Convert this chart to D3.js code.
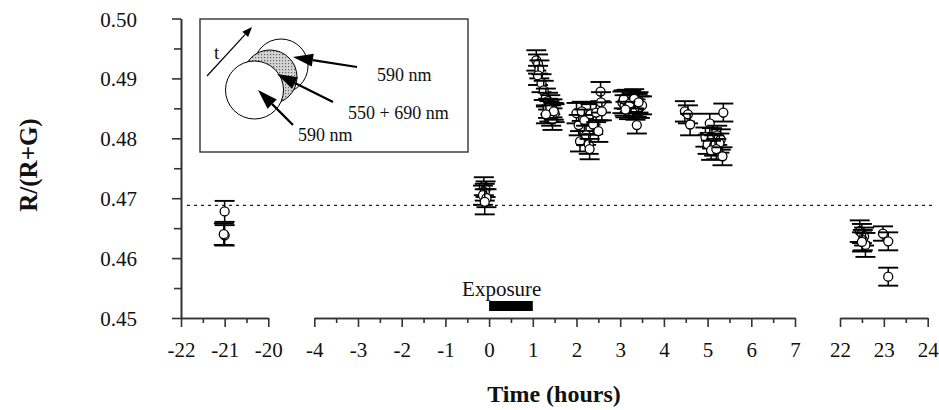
<!DOCTYPE html>
<html><head><meta charset="utf-8">
<script src="https://cdn.jsdelivr.net/npm/d3@7"></script>
<style>
html,body{margin:0;padding:0;background:#fff;}
svg{display:block;font-family:"Liberation Serif","Times New Roman",serif;}
</style></head>
<body>
<script>
// ---------------- data ----------------
const times = [
  -21, -21, -21.02,
  -0.12, -0.08, -0.10, -0.14, -0.06, -0.10,
  1.08, 1.12, 1.15, 1.12, 1.20, 1.25, 1.30, 1.35, 1.40, 1.45, 1.38, 1.50, 1.42, 1.45, 1.35, 1.48, 1.30,
  2.00, 2.05, 2.08, 2.12, 2.18, 2.22, 2.28, 2.32, 2.38, 2.45, 2.50, 2.55, 2.56, 2.58, 2.30,
  3.05, 3.10, 3.15, 3.20, 3.25, 3.30, 3.35, 3.40, 3.45, 3.38, 3.50, 3.08, 3.22, 3.32, 3.42, 3.12,
  4.48, 4.55, 4.60,
  5.05, 5.36, 4.95, 5.10, 5.22, 5.30, 5.00, 5.15, 5.27, 5.08, 5.20, 5.34,
  22.45, 22.50, 22.55, 22.52, 22.58, 22.50,
  22.98, 23.10, 23.10
];
const values = [
  0.4678, 0.4638, 0.4640,
  0.4720, 0.4715, 0.4710, 0.4705, 0.4700, 0.4694,
  0.4930, 0.4924, 0.4915, 0.4905, 0.4892, 0.4880, 0.4868, 0.4862, 0.4856, 0.4850, 0.4845, 0.4842, 0.4838, 0.4832, 0.4850, 0.4845, 0.4840,
  0.4842, 0.4822, 0.4795, 0.4845, 0.4830, 0.4805, 0.4790, 0.4840, 0.4823, 0.4843, 0.4812, 0.4878, 0.4860, 0.4845, 0.4782,
  0.4860, 0.4855, 0.4865, 0.4850, 0.4862, 0.4856, 0.4848, 0.4858, 0.4852, 0.4822, 0.4855, 0.4865, 0.4858, 0.4866, 0.4860, 0.4848,
  0.4845, 0.4840, 0.4823,
  0.4825, 0.4843, 0.4802, 0.4800, 0.4805, 0.4798, 0.4790, 0.4788, 0.4792, 0.4780, 0.4782, 0.4770,
  0.4645, 0.4641, 0.4636, 0.4630, 0.4622, 0.4627,
  0.4641, 0.4628, 0.4569
];
const errors = [
  0.00175, 0.0017, 0.0018,
  0.0015, 0.0013, 0.0014, 0.0016, 0.0015, 0.0021,
  0.0017, 0.0016, 0.0015, 0.0016, 0.0015, 0.0016, 0.0015, 0.0014, 0.0016, 0.0015, 0.0017, 0.0015, 0.0017, 0.0018, 0.0016, 0.0014, 0.0015,
  0.0017, 0.0017, 0.0017, 0.0016, 0.0018, 0.0016, 0.0016, 0.0017, 0.0016, 0.0016, 0.0018, 0.0016, 0.0017, 0.0015, 0.0017,
  0.0018, 0.0017, 0.0016, 0.0018, 0.0017, 0.0019, 0.0017, 0.0016, 0.0018, 0.0014, 0.0015, 0.0015, 0.0014, 0.0016, 0.0017, 0.0013,
  0.0017, 0.0015, 0.0018,
  0.0016, 0.0015, 0.0016, 0.0017, 0.0016, 0.0017, 0.0016, 0.0017, 0.0016, 0.0016, 0.0017, 0.0015,
  0.0018, 0.0016, 0.0015, 0.0017, 0.0020, 0.0016,
  0.0012, 0.0015, 0.0015
];
const baseline = 0.4688;
const exposure = [0, 1];
const segmentDomains = [[-22, -20], [-4, 7], [22, 24]];
const xTickLabels = [["-22","-21","-20"], ["-4","-3","-2","-1","0","1","2","3","4","5","6","7"], ["22","23","24"]];
const yTicks = [0.45, 0.46, 0.47, 0.48, 0.49, 0.50];
const yTickLabels = ["0.45", "0.46", "0.47", "0.48", "0.49", "0.50"];
const xTitle = "Time (hours)";
const yTitle = "R/(R+G)";
const exposureLabel = "Exposure";
const insetLabels = ["590 nm", "550 + 690 nm", "590 nm", "t"];

// ---------------- layout ----------------
const W = 939, H = 410;
const svg = d3.select("body").append("svg").attr("width", W).attr("height", H);
const axisY = 318, axisX = 181;
const segmentRanges = [[181, 268.3], [314.3, 795], [840, 927.7]];
const scales = segmentDomains.map((d, i) => d3.scaleLinear().domain(d).range(segmentRanges[i]));
const x = t => {
  const i = segmentDomains.findIndex(d => t >= d[0] - 0.5 && t <= d[1] + 0.5);
  return scales[i](t);
};
const y = d3.scaleLinear().domain([0.45, 0.50]).range([318, 18.5]);
const ink = "#111";
const serif = "Liberation Serif, Times New Roman, serif";

// ---------------- axes ----------------
const tickFont = 21;
scales.forEach((s, i) => {
  const [a, b] = segmentDomains[i];
  const major = d3.range(a, b + 0.001, 1);
  const minor = d3.range(a + 0.5, b, 1);
  const gMin = svg.append("g").attr("transform", `translate(0,${axisY})`)
    .call(d3.axisBottom(s).tickValues(minor).tickSize(5).tickSizeOuter(0).tickFormat(""));
  const g = svg.append("g").attr("transform", `translate(0,${axisY})`)
    .call(d3.axisBottom(s).tickValues(major).tickSize(9).tickSizeOuter(0)
      .tickFormat((d, j) => xTickLabels[i][j]));
  [g, gMin].forEach(gg => {
    gg.selectAll("path,line").attr("stroke", "#333").attr("stroke-width", 1.6);
  });
  g.selectAll("text").attr("font-size", tickFont).attr("fill", ink)
    .attr("font-family", serif)
    .attr("y", 0).attr("dy", 0).attr("transform", "translate(0,39)");
});

const yMinor = d3.range(0.455, 0.5, 0.01);
const gyMin = svg.append("g").attr("transform", `translate(${axisX},0)`)
  .call(d3.axisLeft(y).tickValues(yMinor).tickSize(7).tickSizeOuter(0).tickFormat(""));
const gy = svg.append("g").attr("transform", `translate(${axisX},0)`)
  .call(d3.axisLeft(y).tickValues(yTicks).tickSize(9).tickSizeOuter(0)
    .tickFormat((d, j) => yTickLabels[j]));
[gy, gyMin].forEach(gg => gg.selectAll("path,line").attr("stroke", "#333").attr("stroke-width", 1.6));
gy.selectAll("text").attr("font-size", tickFont).attr("fill", ink)
  .attr("font-family", serif)
  .attr("x", -44).attr("dy", "0.36em");

// axis titles
svg.append("text").attr("x", 554).attr("y", 402).attr("text-anchor", "middle")
  .attr("font-size", 24).attr("font-weight", "bold").attr("fill", ink).text(xTitle);
svg.append("text").attr("transform", "translate(37,165) rotate(-90)").attr("text-anchor", "middle")
  .attr("font-size", 25).attr("font-weight", "bold").attr("fill", ink).text(yTitle);

// ---------------- baseline (dotted) ----------------
svg.append("line").attr("x1", 187).attr("x2", 935).attr("y1", y(baseline)).attr("y2", y(baseline))
  .attr("stroke", "#222").attr("stroke-width", 1.1).attr("stroke-dasharray", "3,4");

// ---------------- exposure ----------------
svg.append("rect").attr("x", x(exposure[0])).attr("width", x(exposure[1]) - x(exposure[0]))
  .attr("y", 301).attr("height", 10).attr("fill", "#000");
svg.append("text").attr("x", x(exposure[0]) - 27).attr("y", 296)
  .attr("font-size", 21).attr("fill", ink).text(exposureLabel);

// ---------------- data ----------------
const data = times.map((t, i) => ({t, v: values[i], e: errors[i]}));
const capW = 10;
const gd = svg.append("g");
const pts = gd.selectAll("g.pt").data(data).join("g").attr("class", "pt");
pts.append("line").attr("x1", d => x(d.t)).attr("x2", d => x(d.t))
  .attr("y1", d => y(d.v + d.e)).attr("y2", d => y(d.v - d.e))
  .attr("stroke", "#000").attr("stroke-width", 1.5);
pts.append("line").attr("x1", d => x(d.t) - capW).attr("x2", d => x(d.t) + capW)
  .attr("y1", d => y(d.v + d.e)).attr("y2", d => y(d.v + d.e))
  .attr("stroke", "#000").attr("stroke-width", 1.9);
pts.append("line").attr("x1", d => x(d.t) - capW).attr("x2", d => x(d.t) + capW)
  .attr("y1", d => y(d.v - d.e)).attr("y2", d => y(d.v - d.e))
  .attr("stroke", "#000").attr("stroke-width", 1.9);
pts.append("circle")
  .attr("cx", d => x(d.t)).attr("cy", d => y(d.v)).attr("r", 4.5)
  .attr("fill", "#fff").attr("stroke", "#000").attr("stroke-width", 1.3);

// ---------------- inset ----------------
const inset = svg.append("g");
inset.append("rect").attr("x", 200).attr("y", 19).attr("width", 268).attr("height", 133)
  .attr("fill", "#fff").attr("stroke", "#333").attr("stroke-width", 1.4);

const defs = svg.append("defs");
const pat = defs.append("pattern").attr("id", "stip").attr("width", 3).attr("height", 3)
  .attr("patternUnits", "userSpaceOnUse");
pat.append("rect").attr("width", 3).attr("height", 3).attr("fill", "#d4d4d4");
pat.append("rect").attr("width", 1.2).attr("height", 1.2).attr("fill", "#666");

inset.append("circle").attr("cx", 281).attr("cy", 66).attr("r", 27)
  .attr("fill", "#fff").attr("stroke", "#000").attr("stroke-width", 1);
inset.append("circle").attr("cx", 270).attr("cy", 77).attr("r", 27)
  .attr("fill", "url(#stip)").attr("stroke", "#000").attr("stroke-width", 1);
inset.append("circle").attr("cx", 254.5).attr("cy", 90).attr("r", 29)
  .attr("fill", "#fff").attr("stroke", "#000").attr("stroke-width", 1);

function arrow(x1, y1, x2, y2, hl, hw, sw) {
  const a = Math.atan2(y2 - y1, x2 - x1);
  const bx = x2 - hl * Math.cos(a), by = y2 - hl * Math.sin(a);
  const px = -Math.sin(a) * hw / 2, py = Math.cos(a) * hw / 2;
  inset.append("line").attr("x1", x1).attr("y1", y1).attr("x2", bx).attr("y2", by)
    .attr("stroke", "#000").attr("stroke-width", sw);
  inset.append("path").attr("d", `M${x2},${y2}L${bx + px},${by + py}L${bx - px},${by - py}Z`)
    .attr("fill", "#000");
}
arrow(207, 76, 252, 27, 10, 8, 1.2);
arrow(357, 67, 293, 57, 20, 13, 2.2);
arrow(333, 102, 277, 74, 20, 13, 2.2);
arrow(293, 125, 258, 90, 20, 13, 2.2);

inset.append("text").attr("x", 377).attr("y", 81).attr("font-size", 18).attr("fill", ink).text(insetLabels[0]);
inset.append("text").attr("x", 348).attr("y", 119).attr("font-size", 18).attr("fill", ink).text(insetLabels[1]);
inset.append("text").attr("x", 298).attr("y", 141).attr("font-size", 18).attr("fill", ink).text(insetLabels[2]);
inset.append("text").attr("x", 214).attr("y", 59).attr("font-size", 19).attr("fill", ink).text(insetLabels[3]);
</script>
</body></html>
